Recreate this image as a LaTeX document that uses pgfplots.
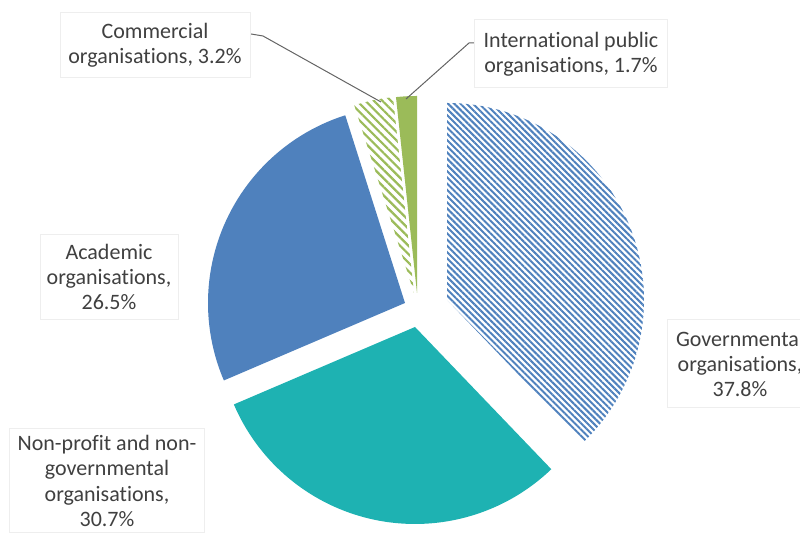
\documentclass[border=0pt]{standalone}
\usepackage{pgfplots}
\pgfplotsset{compat=1.18}
\usepackage{pgfplotstable}
\usetikzlibrary{patterns.meta}
\usepackage{fontspec}
\setmainfont{Carlito}[Ligatures=NoCommon]
\definecolor{cblue}{RGB}{79,129,189}
\definecolor{cteal}{RGB}{30,178,178}
\definecolor{cgreen}{RGB}{155,187,89}
\definecolor{ctext}{RGB}{64,64,64}
\definecolor{cline}{RGB}{100,100,100}
\definecolor{cbox}{RGB}{238,238,238}
\tikzset{
  slice0/.style={pattern={Lines[angle=-45,distance=2.2pt,line width=1pt]},pattern color=cblue},
  slice1/.style={fill=cteal},
  slice2/.style={fill=cblue},
  slice3/.style={pattern={Lines[angle=-45,distance=3pt,line width=1.1pt]},pattern color=cgreen},
  slice4/.style={fill=cgreen},
  lbl/.style={font=\fontsize{11}{12.6}\selectfont,text=ctext,align=center,fill=white,draw=cbox,line width=0.5pt,inner sep=0pt},
}
% share (%), slice centre in pixel coordinates (y measured upward)
\pgfplotstableread{
name value cx cy
Gov 37.8 447 233
NP 30.7 415 206
Acad 26.5 405 230
Comm 3.2 414 240
Intl 1.7 417 240
}\piedata
\begin{document}
\begin{tikzpicture}
\path[use as bounding box, clip] (0,0) rectangle (400pt,266.5pt);
\begin{axis}[
  at={(0,0)}, anchor=south west,
  width=400pt, height=266.5pt, scale only axis,
  xmin=0, xmax=800, ymin=0, ymax=533,
  hide axis, clip=false,
]
\pgfmathsetmacro\startang{90}
\pgfplotsforeachungrouped \i in {0,...,4}{%
  \pgfplotstablegetelem{\i}{value}\of\piedata \let\v\pgfplotsretval
  \pgfplotstablegetelem{\i}{cx}\of\piedata \let\cx\pgfplotsretval
  \pgfplotstablegetelem{\i}{cy}\of\piedata \let\cy\pgfplotsretval
  \pgfmathsetmacro\endang{\startang-\v*360/99.9}%
  \edef\tmp{\noexpand\fill[slice\i] (axis cs:\cx,\cy) -- +(\startang:98.5pt) arc[start angle=\startang,end angle=\endang,radius=98.5pt] -- cycle;}%
  \tmp
  \let\startang\endang
}
% leader lines
\draw[cline,line width=0.5pt] (axis cs:251,499) -- (axis cs:263,497) -- (axis cs:381,431);
\draw[cline,line width=0.5pt] (axis cs:476,490) -- (axis cs:469,490) -- (axis cs:406,434);
% labels
\node[lbl,minimum width=95pt,minimum height=32.5pt] at (axis cs:155,488) {Commercial\\organisations, 3.2\%};
\node[lbl,minimum width=96.5pt,minimum height=34pt] at (axis cs:571,479) {International public\\organisations, 1.7\%};
\node[lbl,minimum width=69pt,minimum height=42.5pt] at (axis cs:109,256) {Academic\\organisations,\\26.5\%};
\node[lbl,minimum width=97.5pt,minimum height=52pt] at (axis cs:107,52) {Non-profit and non-\\governmental\\organisations,\\30.7\%};
\node[lbl,minimum width=73pt,minimum height=44pt] at (axis cs:740,169) {Governmental\\organisations,\\37.8\%};
\end{axis}
\end{tikzpicture}
\end{document}
